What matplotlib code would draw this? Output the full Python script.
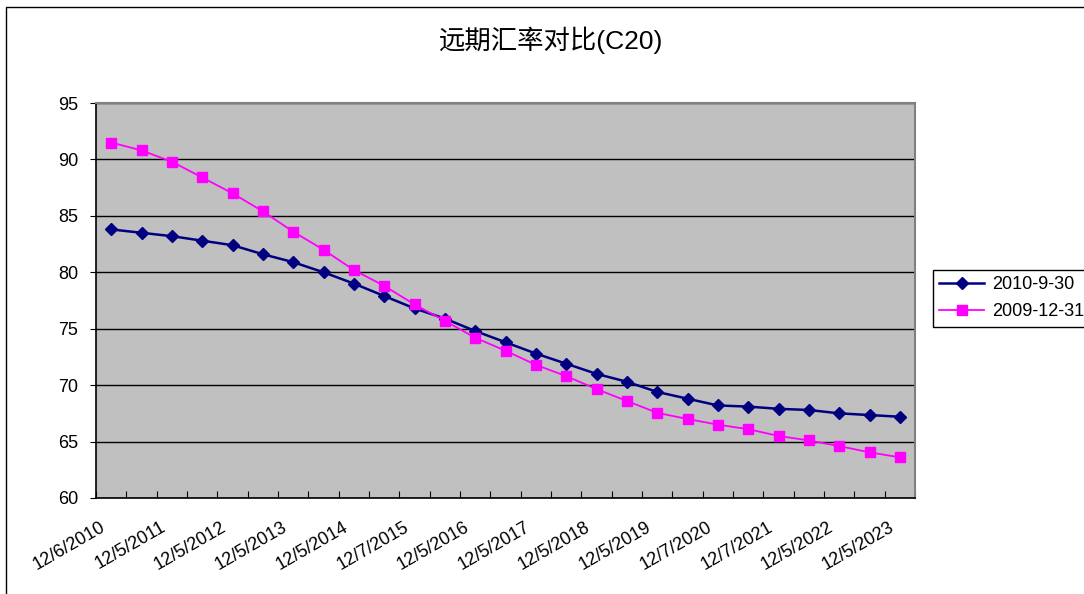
import numpy as np
import matplotlib
matplotlib.use("Agg")
import matplotlib.pyplot as plt
import matplotlib.transforms as mtransforms
from matplotlib.patches import Rectangle

plt.rcParams['font.family'] = ['Liberation Sans', 'Noto Sans CJK SC', 'DejaVu Sans']

title = "远期汇率对比(C20)"
tick_labels = ["12/6/2010", "12/5/2011", "12/5/2012", "12/5/2013", "12/5/2014",
               "12/7/2015", "12/5/2016", "12/5/2017", "12/5/2018", "12/5/2019",
               "12/7/2020", "12/7/2021", "12/5/2022", "12/5/2023"]
series_names = ["2010-9-30", "2009-12-31"]
s_2010 = [83.8, 83.5, 83.2, 82.8, 82.4, 81.6, 80.9, 80.0, 79.0, 77.9,
          76.8, 75.9, 74.8, 73.8, 72.8, 71.9, 71.0, 70.3, 69.4, 68.8,
          68.2, 68.1, 67.9, 67.8, 67.5, 67.35, 67.2]
s_2009 = [91.5, 90.8, 89.8, 88.4, 87.0, 85.4, 83.6, 82.0, 80.2, 78.8,
          77.15, 75.7, 74.2, 73.05, 71.8, 70.8, 69.65, 68.6, 67.55, 67.0,
          66.5, 66.1, 65.5, 65.1, 64.6, 64.05, 63.6]

x = np.arange(len(s_2010))

fig = plt.figure(figsize=(10.84, 5.94), dpi=100)
ax = fig.add_axes([96/1084, 1-498/594, (915-96)/1084, (498-103)/594])
ax.set_facecolor("#C0C0C0")

ax.plot(x, s_2010, color="#000080", lw=1.8, marker="D", ms=6, mec="#000080",
        label=series_names[0], zorder=3)
ax.plot(x, s_2009, color="#FF00FF", lw=1.3, marker="s", ms=7, mec="#FF00FF",
        label=series_names[1], zorder=3)

ax.set_ylim(60, 95)
ax.set_yticks(np.arange(60, 96, 5))
ax.yaxis.grid(True, color="black", lw=1)
ax.set_axisbelow(True)
ax.set_xlim(-0.5, len(x) - 0.5)

# ticks at category boundaries, labels at every other category
ax.set_xticks(np.arange(len(x) + 1) - 0.5)
ax.set_xticklabels([])
ax.tick_params(axis="x", which="major", direction="in", length=5, color="black")
ax.set_xticks(x[::2], minor=True)
ax.set_xticklabels(tick_labels, minor=True, rotation=30, ha="right", fontsize=13)
ax.tick_params(axis="x", which="minor", length=0, pad=15)
offset = mtransforms.ScaledTranslation(-3/100, 0, fig.dpi_scale_trans)
for lab in ax.get_xticklabels(minor=True):
    lab.set_transform(lab.get_transform() + offset)

ax.tick_params(axis="y", direction="out", length=4, labelsize=13, pad=9)

for side in ["top", "right"]:
    ax.spines[side].set_color("#808080")
    ax.spines[side].set_linewidth(1.5)
for side in ["left", "bottom"]:
    ax.spines[side].set_color("black")
    ax.spines[side].set_linewidth(1.2)

fig.text(551/1084, 1-40/594, title, ha="center", va="center", fontsize=19)

leg = ax.legend(loc="upper left", bbox_to_anchor=(933/1084, 1-270/594),
                bbox_transform=fig.transFigure, fontsize=13, frameon=True,
                fancybox=False, borderaxespad=0, borderpad=0.35,
                handlelength=2.5, handletextpad=0.4, labelspacing=0.55)
leg.get_frame().set_edgecolor("black")
leg.get_frame().set_linewidth(1)
leg.get_frame().set_facecolor("white")
leg.get_frame().set_alpha(1)

fig.patches.append(Rectangle((6/1084, -0.1), 1.2, 1.1 - 7/594, fill=False,
                             edgecolor="black", lw=1, transform=fig.transFigure,
                             figure=fig))

fig.savefig("out.png", dpi=100)
